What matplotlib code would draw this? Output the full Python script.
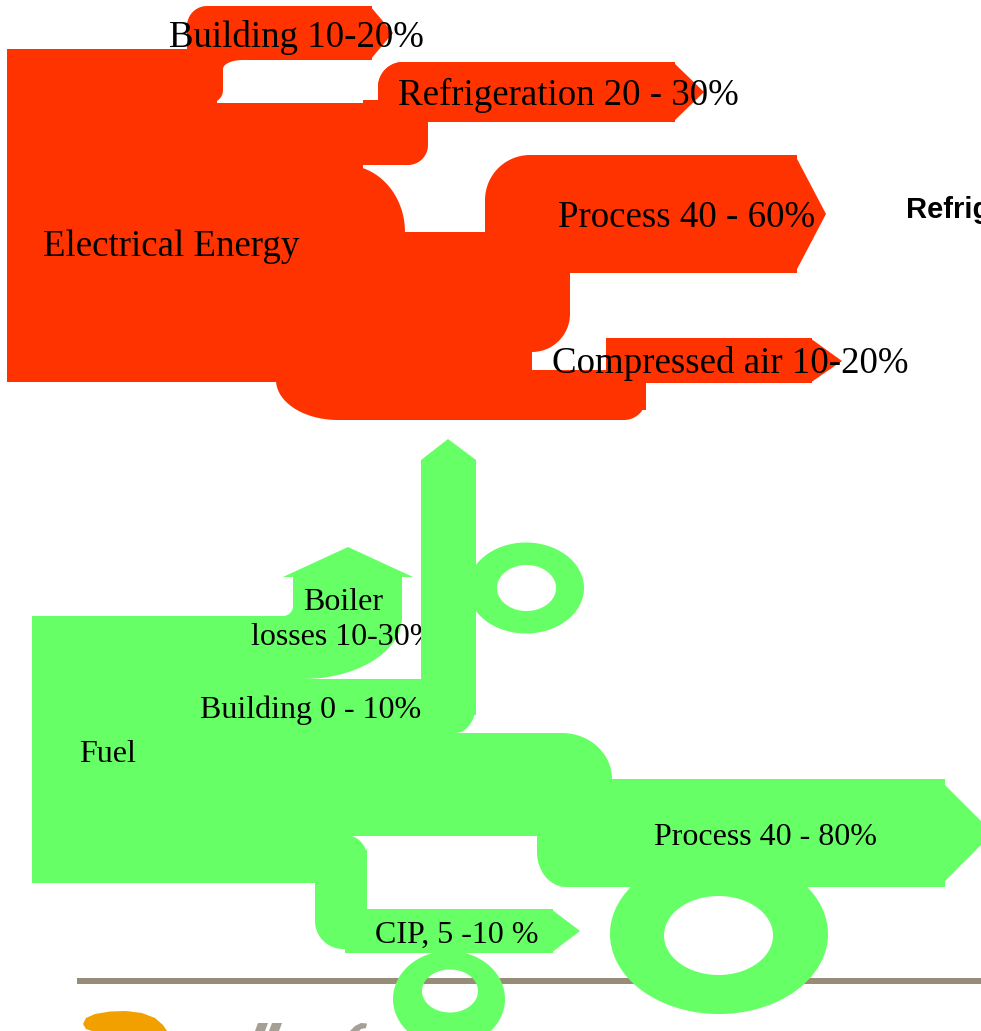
"""
Energy use breakdown for a dairy site: electricity and fuel flow diagram.
"""

import numpy as np
import matplotlib.pyplot as plt
from matplotlib.patches import Polygon, PathPatch, Rectangle
from matplotlib.path import Path

RED = "#ff3300"
GREEN = "#66ff66"
SERIF = "Liberation Serif"

# labels and shares
sources = ["Electrical Energy", "Fuel"]
electric_uses = ["Building", "Refrigeration", "Process", "Compressed air"]
electric_shares = ["10-20%", "20 - 30%", "40 - 60%", "10-20%"]
fuel_uses = ["Boiler losses", "Building", "Process", "CIP,"]
fuel_shares = ["10-30%", "0 - 10%", "40 - 80%", "5 -10 %"]
side_note = "Refrig"


def rrect(x0, y0, x1, y1, tl=0, tr=0, br=0, bl=0, n=24):
    # rectangle in pixel coords (y down) with optional elliptic corners
    def rad(c):
        return (c, c) if np.isscalar(c) else c
    corners = [
        (tl, lambda rx, ry: (x0 + rx, y0 + ry), np.pi, 1.5 * np.pi, (x0, y0)),
        (tr, lambda rx, ry: (x1 - rx, y0 + ry), 1.5 * np.pi, 2 * np.pi, (x1, y0)),
        (br, lambda rx, ry: (x1 - rx, y1 - ry), 0, 0.5 * np.pi, (x1, y1)),
        (bl, lambda rx, ry: (x0 + rx, y1 - ry), 0.5 * np.pi, np.pi, (x0, y1)),
    ]
    pts = []
    for c, centre, a0, a1, pt in corners:
        rx, ry = rad(c)
        if rx == 0:
            pts.append(pt)
            continue
        cx, cy = centre(rx, ry)
        t = np.linspace(a0, a1, n)
        pts += list(zip(cx + rx * np.cos(t), cy + ry * np.sin(t)))
    return np.array(pts)


def fillet(x, y, rx, ry, sx, sy, n=20):
    # concave corner fill at (x, y); sx/sy give the direction it opens to
    cx, cy = x + sx * rx, y + sy * ry
    t = np.linspace(0, 0.5 * np.pi, n)
    arc = [(cx - sx * rx * np.sin(a), cy - sy * ry * np.cos(a)) for a in t]
    return np.array([(x, y)] + arc)


def ellipse(cx, cy, rx, ry, n=160):
    t = np.linspace(0, 2 * np.pi, n)
    return np.column_stack([cx + rx * np.cos(t), cy + ry * np.sin(t)])


def ring(ax, outer, inner, color, z=1):
    o = ellipse(*outer)
    i = ellipse(*inner)[::-1]
    verts = np.vstack([o, i])
    codes = ([Path.MOVETO] + [Path.LINETO] * (len(o) - 1)
             + [Path.MOVETO] + [Path.LINETO] * (len(i) - 1))
    ax.add_patch(PathPatch(Path(verts, codes), facecolor=color,
                           edgecolor="none", zorder=z))


def fill(ax, pts, color, z=1):
    ax.add_patch(Polygon(pts, closed=True, facecolor=color,
                         edgecolor="none", zorder=z))


fig = plt.figure(figsize=(9.81, 10.31), dpi=100)
ax = fig.add_axes([0, 0, 1, 1])
ax.set_xlim(0, 981)
ax.set_ylim(1031, 0)
ax.axis("off")

# ---- electricity (red) ----
red_shapes = [
    rrect(7, 49, 217, 382),
    rrect(187, 30, 223, 103, br=13),
    rrect(187, 6, 372, 60, tl=20),
    [(370, 6), (393, 33), (370, 60)],
    fillet(223, 60, 20, 9, 1, 1),
    rrect(7, 103, 363, 382),
    rrect(7, 165, 405, 382, tr=(60, 67)),
    rrect(378, 62, 675, 122, tl=25),
    [(673, 62), (704, 92), (673, 122)],
    rrect(378, 62, 428, 165, tl=25, br=20),
    rrect(363, 100, 410, 165),
    rrect(380, 232, 570, 352, br=38),
    rrect(485, 155, 797, 273, tl=45),
    [(795, 155), (826, 214), (795, 273)],
    rrect(276, 340, 532, 420, bl=(62, 40)),
    rrect(520, 370, 646, 420, br=22),
    rrect(606, 338, 646, 410),
    rrect(606, 338, 812, 383, tl=20),
    [(810, 338), (842, 361), (810, 383)],
]
for s in red_shapes:
    fill(ax, s, RED)

# ---- fuel (green) ----
ax.add_patch(Rectangle((77, 978), 904, 6, facecolor="#978c77",
                       edgecolor="none", zorder=0.5))
green_shapes = [
    rrect(32, 616, 183, 883),
    rrect(32, 616, 402, 679, br=(99, 62)),
    rrect(293, 577, 402, 620),
    [(283, 577), (348, 547), (413, 577)],
    fillet(293, 616, 10, 10, -1, -1),
    rrect(32, 679, 476, 733, br=(20, 30)),
    rrect(32, 733, 612, 836, tr=(50, 46)),
    rrect(537, 779, 945, 887, bl=(29, 35)),
    [(939, 779), (993, 833), (939, 887)],
    rrect(32, 835, 367, 883, tr=22),
    rrect(315, 850, 367, 949, bl=(28, 28)),
    rrect(345, 909, 553, 953),
    [(551, 909), (580, 931), (551, 953)],
]
for s in green_shapes:
    fill(ax, s, GREEN)
ring(ax, (526, 588, 58, 45.5), (526.5, 588, 29.5, 23), GREEN)
ring(ax, (719, 934, 109, 80), (718.5, 935.5, 54.5, 39.5), GREEN)
ring(ax, (449, 999, 56, 48), (450, 991, 28, 21.5), GREEN)

# building shaft sits over the boiler label
fill(ax, rrect(421, 460, 476, 715), GREEN, z=2)
fill(ax, [(421, 460), (448, 439), (476, 460)], GREEN, z=2)

# ---- labels ----
big = dict(family=SERIF, fontsize=26.6, va="baseline", zorder=5)
small = dict(family=SERIF, fontsize=23, va="baseline", zorder=5)

e_pos = [(296, 47), (568.5, 105), (687, 227), (730, 373)]
for (x, y), name, share in zip(e_pos, electric_uses, electric_shares):
    ax.text(x, y, f"{name} {share}", ha="center", **big)
ax.text(171, 256, sources[0], ha="center", **big)

boiler, losses = fuel_uses[0].split(" ")
ax.text(343.5, 610, boiler.capitalize(), ha="center", **small)
ax.text(251, 645, f"{losses} {fuel_shares[0]}", ha="left",
        **dict(small, zorder=1.5))
f_pos = [(310.5, 718), (766, 845), (456.5, 943)]
for (x, y), name, share in zip(f_pos, fuel_uses[1:], fuel_shares[1:]):
    ax.text(x, y, f"{name} {share}", ha="center", **small)
ax.text(107.5, 762, sources[1], ha="center", **small)

ax.text(906, 218, side_note, ha="left", va="baseline", fontsize=21,
        family="Liberation Sans", fontweight="bold", zorder=5)

# bit of the logo peeking in at the bottom
fill(ax, [(83, 1024), (86, 1018), (95, 1014), (110, 1011.5), (126, 1011),
          (142, 1013), (155, 1018), (163, 1025), (167, 1031), (92, 1031),
          (86, 1029)], "#f2a000")
grey = "#a59f95"
fill(ax, [(258, 1023), (268, 1023), (265, 1031), (255, 1031)], grey)
fill(ax, [(272, 1023), (282, 1023), (279, 1031), (269, 1031)], grey)
fill(ax, [(350, 1031), (355, 1026), (361, 1023), (367, 1023.5),
          (366, 1028), (361, 1029), (359, 1031)], grey)

fig.savefig("out.png", dpi=100)
